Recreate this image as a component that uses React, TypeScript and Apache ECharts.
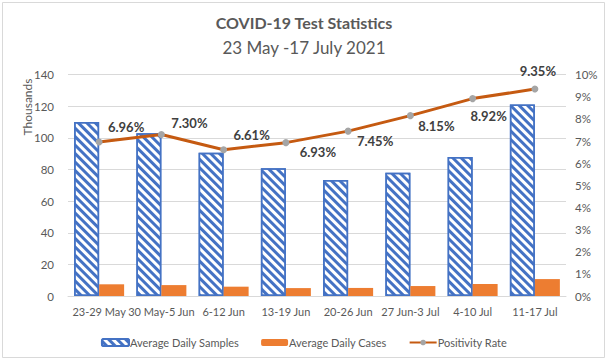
import React, { useEffect, useRef } from "react";
import * as echarts from "echarts";

const categories = [
  "23-29 May",
  "30 May-5 Jun",
  "6-12 Jun",
  "13-19 Jun",
  "20-26 Jun",
  "27 Jun-3 Jul",
  "4-10 Jul",
  "11-17 Jul",
];
const avgDailySamples = [110, 103, 90.7, 80.8, 73.4, 78, 88, 121.2];
const avgDailyCases = [7.4, 6.9, 5.9, 5.0, 5.1, 6.3, 7.6, 10.7];
const positivityRate = [6.96, 7.3, 6.61, 6.93, 7.45, 8.15, 8.92, 9.35];
const labelOffsets = [
  [27, -15],
  [28, -11],
  [28, -15],
  [32, 9],
  [27, 10],
  [26, 10],
  [16, 17],
  [3, -18],
];

const FONT = "Lato";
const TXT = "#595959";

export default function App() {
  const ref = useRef<HTMLDivElement>(null);
  useEffect(() => {
    if (!ref.current) return;
    const chart = echarts.init(ref.current, undefined, { renderer: "svg" });
    chart.setOption({
      animation: false,
      backgroundColor: "#ffffff",
      title: [
        {
          text: "COVID-19 Test Statistics",
          left: "center",
          top: 14,
          padding: 0,
          textStyle: { fontFamily: FONT, fontWeight: "bold", fontSize: 16, color: TXT },
        },
        {
          text: "23 May -17 July 2021",
          left: "center",
          top: 39,
          padding: 0,
          textStyle: { fontFamily: FONT, fontWeight: "normal", fontSize: 17, color: TXT },
        },
      ],
      graphic: [
        {
          type: "rect",
          shape: { x: 2.5, y: 2.5, width: 602, height: 355 },
          style: { fill: "none", stroke: "#D9D9D9", lineWidth: 1 },
          silent: true,
        },
        {
          type: "text",
          x: 27,
          y: 107,
          rotation: Math.PI / 2,
          style: {
            text: "Thousands",
            fontFamily: FONT,
            fontSize: 12,
            fill: TXT,
            textAlign: "center",
            textVerticalAlign: "middle",
          },
        },
      ],
      legend: {
        left: "center",
        top: 332,
        itemWidth: 27,
        itemHeight: 7,
        itemGap: 22,
        textStyle: { fontFamily: FONT, fontSize: 11, color: TXT, padding: [0, 0, 0, -4] },
        data: ["Average Daily Samples", "Average Daily Cases", "Positivity Rate"],
      },
      grid: { left: 68, right: 42, top: 74.7, bottom: 65 },
      xAxis: {
        type: "category",
        data: categories,
        axisTick: { show: false },
        axisLine: { lineStyle: { color: "#D9D9D9", width: 1 } },
        axisLabel: { fontFamily: FONT, fontSize: 11, color: TXT, margin: 10, interval: 0 },
      },
      yAxis: [
        {
          type: "value",
          min: 0,
          max: 140,
          interval: 20,
          axisLine: { show: false },
          axisTick: { show: false },
          splitLine: { lineStyle: { color: "#D9D9D9", width: 1 } },
          axisLabel: { fontFamily: FONT, fontSize: 11.5, color: TXT, margin: 14 },
        },
        {
          type: "value",
          min: 0,
          max: 10,
          interval: 1,
          axisLine: { show: false },
          axisTick: { show: false },
          splitLine: { show: false },
          axisLabel: { fontFamily: FONT, fontSize: 11.5, color: TXT, margin: 9, formatter: "{value}%" },
        },
      ],
      series: [
        {
          name: "Average Daily Samples",
          type: "bar",
          data: avgDailySamples,
          barWidth: 25,
          barGap: "0%",
          itemStyle: {
            color: "#ffffff",
            borderColor: "#4472C4",
            borderWidth: 1.5,
            decal: {
              symbol: "rect",
              symbolSize: 1,
              color: "#4472C4",
              dashArrayX: [1, 0],
              dashArrayY: [2.2, 2.2],
              rotation: Math.PI / 4,
            },
          },
        },
        {
          name: "Average Daily Cases",
          type: "bar",
          data: avgDailyCases,
          barWidth: 25,
          barGap: "0%",
          itemStyle: { color: "#ED7D31" },
        },
        {
          name: "Positivity Rate",
          type: "line",
          yAxisIndex: 1,
          data: positivityRate.map((v, i) => ({
            value: v,
            label: { offset: labelOffsets[i] },
          })),
          symbol: "circle",
          symbolSize: 7,
          lineStyle: { color: "#C55A11", width: 3 },
          itemStyle: { color: "#A5A5A5" },
          label: {
            show: true,
            position: "inside",
            fontFamily: FONT,
            fontWeight: "bold",
            fontSize: 13,
            color: "#404040",
            formatter: (p: any) => p.value.toFixed(2) + "%",
          },
          z: 5,
        },
      ],
    });
    return () => chart.dispose();
  }, []);
  return (
    <div
      ref={ref}
      style={{ position: "fixed", left: 0, top: 0, width: 608, height: 361 }}
    />
  );
}
